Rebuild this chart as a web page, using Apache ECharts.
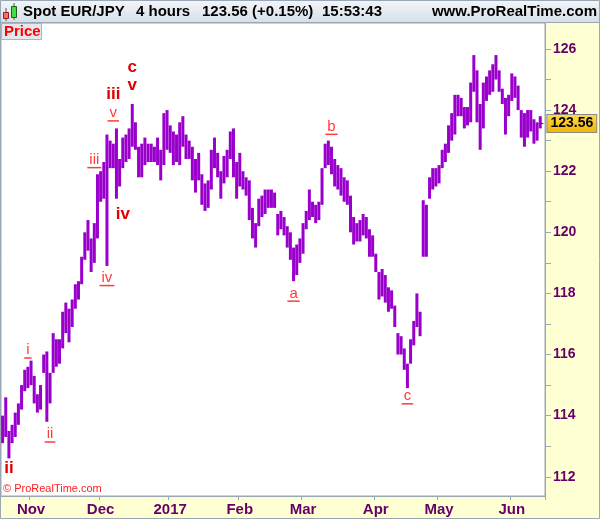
<!DOCTYPE html>
<html><head><meta charset="utf-8">
<script src="https://cdn.jsdelivr.net/npm/echarts@6/dist/echarts.min.js"></script>
<style>html,body{margin:0;padding:0;background:#ffffd4}#c{width:600px;height:519px}</style>
</head><body><div id="c"></div>
<script>
// ---- data ----
const startDate = '2016-10-19';
const endDate = '2017-06-15';
const monthTicks = {'2016-11-01':'Nov','2016-12-01':'Dec','2017-01-02':'2017','2017-02-01':'Feb','2017-03-01':'Mar','2017-04-03':'Apr','2017-05-01':'May','2017-06-01':'Jun'};
const lows = [113.1,113.3,112.6,113.1,113.3,113.7,114.2,114.8,114.9,115.0,114.4,114.1,114.2,115.4,113.8,114.4,115.4,115.6,115.7,116.2,
116.7,116.4,116.9,117.5,117.8,118.3,119.1,119.4,118.7,119.0,119.8,121.0,121.1,118.9,122.1,122.1,121.1,121.5,122.1,122.3,
122.4,122.8,122.7,121.8,121.8,122.2,122.3,122.3,122.3,122.2,121.7,122.2,122.7,122.6,122.2,122.3,122.2,122.8,122.4,122.4,
121.7,121.3,121.7,120.9,120.7,120.8,121.4,122.1,121.8,121.1,121.6,121.8,122.4,121.8,121.1,121.5,121.4,121.2,120.4,119.8,
119.5,120.2,120.5,120.6,120.8,120.8,120.8,119.9,120.1,119.9,119.5,119.1,118.4,118.6,119.0,119.3,120.1,120.4,120.5,120.3,
120.4,120.9,122.1,122.2,121.9,121.5,121.4,121.2,121.0,120.9,120.0,119.6,119.7,119.7,119.9,119.8,119.2,119.2,118.7,117.8,
117.9,117.7,117.4,117.5,116.9,116.0,116.0,115.5,114.9,115.7,116.3,116.9,116.6,119.2,119.2,121.1,121.4,121.5,121.6,122.1,
122.3,122.6,123.0,123.2,123.8,123.8,123.4,123.5,123.6,124.6,123.6,122.7,123.4,124.3,124.5,124.6,125.0,124.6,124.2,123.2,
123.8,124.3,124.4,124.0,123.1,122.8,123.1,123.3,122.9,123.0,123.4];
const highs = [114.0,114.6,113.5,113.7,114.1,114.4,115.0,115.5,115.6,115.8,115.3,114.7,115.0,116.0,116.1,115.4,116.7,116.5,116.5,117.4,
117.7,117.5,117.8,118.3,118.4,119.2,120.0,120.4,119.8,120.3,121.9,122.0,122.3,123.2,123.0,122.9,123.4,122.4,123.1,123.2,
123.4,124.2,123.6,122.8,122.9,123.1,122.9,122.9,122.8,123.1,122.7,123.9,124.0,123.5,123.3,123.2,123.6,123.8,123.2,123.0,
122.8,122.4,122.6,121.9,121.6,121.7,122.7,123.1,122.6,122.0,122.5,122.7,123.3,123.4,122.3,122.6,122.0,121.8,121.7,120.8,
120.3,121.1,121.2,121.4,121.4,121.4,121.3,120.6,120.7,120.5,120.2,120.0,119.5,119.6,119.8,120.3,120.7,121.4,121.0,120.9,
121.0,122.1,122.9,123.0,122.8,122.4,122.2,122.1,121.8,121.7,121.2,120.5,120.3,120.4,120.6,120.5,120.1,119.9,119.3,118.7,
118.8,118.6,118.2,118.1,117.6,116.7,116.6,116.2,115.7,116.5,117.1,118.0,117.4,121.05,120.9,121.8,122.1,122.1,122.2,122.7,
122.9,123.5,123.9,124.5,124.5,124.4,124.1,124.1,124.9,125.8,125.3,124.2,124.9,125.1,125.3,125.5,125.8,125.3,124.7,124.4,
124.5,125.2,125.1,124.8,124.0,123.9,124.0,124.0,123.7,123.6,123.8];
const yLabelValues = [112,114,116,118,120,122,124,126];
const yTickValues = [112,113,114,115,116,117,118,119,120,121,122,123,124,125,126];
const waveText  = ['ii','i','ii','iii','iv','v','iii','iv','c','v','a','b','c'];
const waveIdx   = [2,8,15,29,33,35,35,38,41,41,92,104,128];
const wavePrice = [112.28,116.14,113.39,122.37,118.51,123.9,124.52,120.58,125.39,124.8,118.0,123.46,114.64];
const waveBold  = [1,0,0,0,0,0,1,1,1,1,0,0,0];
const lastPrice = 123.56;
const headerTexts = ['Spot EUR/JPY','4 hours','123.56 (+0.15%)','15:53:43'];

// ---- categories (weekdays) ----
const categories = [];
(function(){
  const s = Date.parse(startDate+'T00:00:00Z'), e = Date.parse(endDate+'T00:00:00Z');
  for (let t = s; t <= e; t += 86400000) {
    const d = new Date(t); const wd = d.getUTCDay();
    if (wd !== 0 && wd !== 6) categories.push(d.toISOString().slice(0,10));
  }
})();

const FONT = '"Liberation Sans", Arial, sans-serif';
const mctx = document.createElement('canvas').getContext('2d');
function measure(t, f){ mctx.font = f; return mctx.measureText(t).width; }

const chart = echarts.init(document.getElementById('c'), null, {renderer:'canvas'});
const isTick = (idx, val) => monthTicks[val] !== undefined;

chart.setOption({
  animation: false,
  backgroundColor: '#ffffd4',
  grid: {left: 1, right: 55, top: 23, bottom: 23, show: true, backgroundColor: '#ffffff', borderColor: '#9aa8b5', borderWidth: 1},
  xAxis: {
    type: 'category', data: categories, boundaryGap: true,
    axisLine: {show: true, lineStyle: {color: '#9aa8b5'}},
    axisTick: {show: true, interval: isTick, length: 4, lineStyle: {color: '#9aa8b5'}},
    axisLabel: {interval: isTick, formatter: v => monthTicks[v] || '', color: '#660066', fontWeight: 'bold', fontSize: 15, fontFamily: FONT, margin: 6},
    splitLine: {show: false}
  },
  yAxis: {
    type: 'value', position: 'right', min: 111.37, max: 126.85, scale: true,
    axisLine: {show: true, lineStyle: {color: '#9aa8b5'}},
    axisTick: {show: true, length: 6, customValues: yTickValues, lineStyle: {color: '#9aa8b5'}},
    axisLabel: {customValues: yLabelValues, color: '#660066', fontWeight: 'bold', fontSize: 14, fontFamily: FONT, margin: 8},
    splitLine: {show: false}
  },
  series: [
    {
      type: 'custom', clip: true,
      data: lows.map((l, i) => [i, l, highs[i]]),
      encode: {x: 0, y: [1, 2]},
      renderItem: function(params, api){
        const i = api.value(0);
        const lo = api.coord([i, api.value(1)]);
        const hi = api.coord([i, api.value(2)]);
        const w = api.size([1, 0])[0] * 0.95;
        return {type: 'rect', shape: {x: lo[0] - w/2, y: hi[1], width: w, height: Math.max(1, lo[1] - hi[1])}, style: {fill: '#9a00cc'}};
      },
      markLine: {
        silent: true, symbol: ['none','none'], animation: false,
        data: [[{coord: [lows.length - 1, lastPrice]}, {coord: [lows.length, lastPrice]}]],
        lineStyle: {color: '#660066', width: 1, type: 'solid'},
        label: {show: true, position: 'end', formatter: lastPrice.toFixed(2), distance: 4,
          color: '#000', fontWeight: 'bold', fontSize: 14, fontFamily: FONT,
          backgroundColor: {type:'linear', x:0, y:0, x2:0, y2:1, colorStops:[{offset:0, color:'#ffdb4d'},{offset:1, color:'#f3b400'}]},
          borderColor: '#8a8a8a', borderWidth: 1, padding: [2, 3, 1, 3]}
      }
    },
    {
      type: 'custom', z: 5, clip: false,
      data: waveIdx.map((x, k) => [x, wavePrice[k]]),
      encode: {x: 0, y: 1},
      renderItem: function(params, api){
        const k = params.dataIndex;
        const p = api.coord([api.value(0), api.value(1)]);
        const bold = waveBold[k] === 1;
        const font = bold ? 'bold 17px ' + FONT : '15px ' + FONT;
        const col = bold ? '#e00000' : '#ff3b3b';
        const children = [{type: 'text', style: {text: waveText[k], x: p[0], y: p[1], align: 'center', verticalAlign: 'middle', font: font, fill: col}}];
        if (!bold) {
          const tw = measure(waveText[k], font);
          children.push({type: 'rect', shape: {x: p[0] - tw/2 - 2, y: p[1] + 7, width: tw + 4, height: 1.5}, style: {fill: col}});
        }
        return {type: 'group', children: children};
      }
    }
  ],
  graphic: [
    {type: 'rect', z: 10, shape: {x: 0, y: 0, width: 600, height: 22},
      style: {fill: {type:'linear', x:0, y:0, x2:0, y2:1, colorStops:[{offset:0, color:'#f3f6f9'},{offset:1, color:'#d6e0e9'}]}}},
    {type: 'rect', z: 10, shape: {x: 0, y: 22, width: 600, height: 1}, style: {fill: '#9aa8b5'}},
    // header icon
    {type: 'rect', z: 11, shape: {x: 5.5, y: 8, width: 1, height: 13}, style: {fill: '#555'}},
    {type: 'rect', z: 11, shape: {x: 3.5, y: 12.5, width: 5, height: 6}, style: {fill: '#ff6b6b', stroke: '#8b2020', lineWidth: 1}},
    {type: 'rect', z: 11, shape: {x: 13.5, y: 3, width: 1, height: 17}, style: {fill: '#555'}},
    {type: 'rect', z: 11, shape: {x: 11.5, y: 6.5, width: 5, height: 11}, style: {fill: '#44dd44', stroke: '#206020', lineWidth: 1}},
    {type: 'text', z: 11, style: {text: headerTexts[0], x: 23, y: 12, verticalAlign: 'middle', font: 'bold 15px ' + FONT, fill: '#000'}},
    {type: 'text', z: 11, style: {text: headerTexts[1], x: 136, y: 12, verticalAlign: 'middle', font: 'bold 15px ' + FONT, fill: '#000'}},
    {type: 'text', z: 11, style: {text: headerTexts[2], x: 202, y: 12, verticalAlign: 'middle', font: 'bold 15px ' + FONT, fill: '#000'}},
    {type: 'text', z: 11, style: {text: headerTexts[3], x: 322, y: 12, verticalAlign: 'middle', font: 'bold 15px ' + FONT, fill: '#000'}},
    {type: 'text', z: 11, style: {text: 'www.ProRealTime.com', x: 597, y: 12, align: 'right', verticalAlign: 'middle', font: 'bold 15px ' + FONT, fill: '#000'}},
    // Price tag
    {type: 'rect', z: 11, shape: {x: 1.5, y: 23.5, width: 40, height: 16}, style: {fill: '#e4e7eb', stroke: '#a8b4c0', lineWidth: 1}},
    {type: 'text', z: 12, style: {text: 'Price', x: 4, y: 32, verticalAlign: 'middle', font: 'bold 15px ' + FONT, fill: '#ff0000'}},
    // copyright
    {type: 'text', z: 11, style: {text: '\u00a9 ProRealTime.com', x: 3, y: 489, verticalAlign: 'middle', font: '11px ' + FONT, fill: '#ff2020'}},
    // outer border
    {type: 'rect', z: 12, shape: {x: 0.5, y: 0.5, width: 599, height: 518}, style: {fill: 'none', stroke: '#9aa8b5', lineWidth: 1}}
  ]
});
</script></body></html>
